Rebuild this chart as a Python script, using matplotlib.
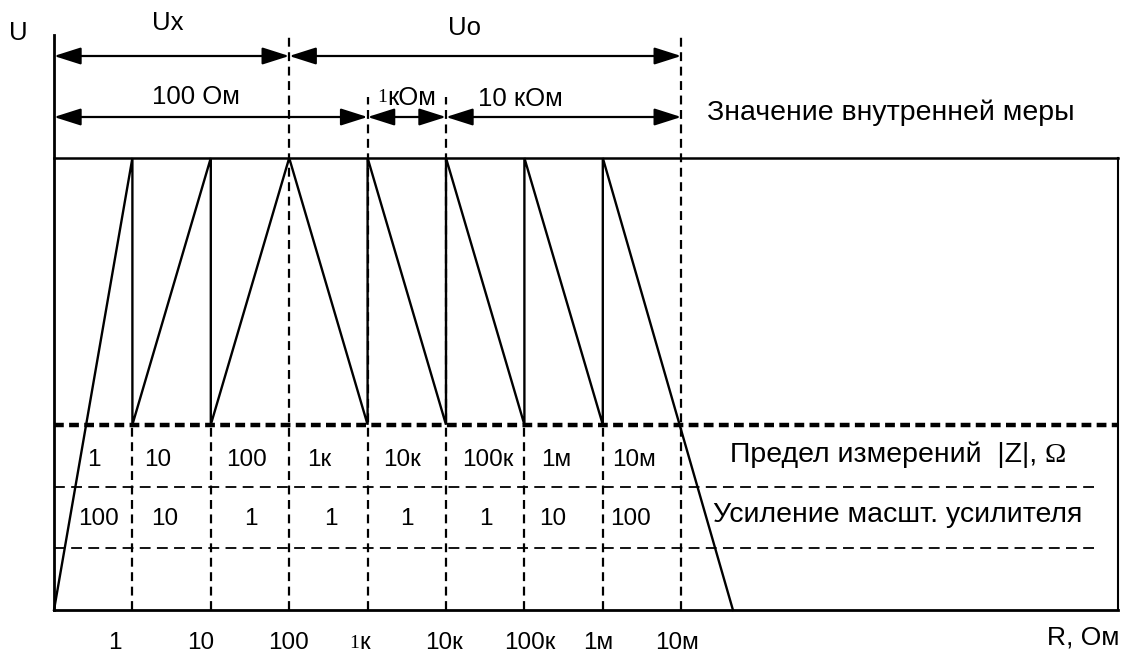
import matplotlib
matplotlib.use("Agg")
import matplotlib.pyplot as plt

plt.rcParams['font.family'] = ['Liberation Sans', 'DejaVu Sans']

# ---- data (x in decades from the U axis, y in units of the internal measure level) ----
range_labels = ['1', '10', '100', '1к', '10к', '100к', '1м', '10м']
gain_labels = ['100', '10', '1', '1', '1', '1', '10', '100']
tick_labels = ['1', '10', '100', '1к', '10к', '100к', '1м', '10м']
measure_level = 1.0
limit_level = 0.41
row_levels = [0.272, 0.137]
wave_x = [0, 1, 1, 2, 2, 3, 4, 4, 5, 5, 6, 6, 7, 7, 8.66]
wave_y = [0, 1, 0.41, 1, 0.41, 1, 0.41, 1, 0.41, 1, 0.41, 1, 0.41, 1, 0]
x_right = 13.57

W, H = 1123, 654
fig = plt.figure(figsize=(W / 100, H / 100), dpi=100)
ax = fig.add_axes([0, 0, 1, 1])
px_per_x = 78.4
px_per_y = 452.0
x0_px, y0_px = 54, 610
ax.set_xlim(-x0_px / px_per_x, (W - x0_px) / px_per_x)
ax.set_ylim(-(H - y0_px) / px_per_y, y0_px / px_per_y)
ax.axis('off')

def py(p):  # pixel row -> data y
    return (y0_px - p) / px_per_y

def pxx(p):  # pixel col -> data x
    return (p - x0_px) / px_per_x

k = dict(color='black')
# axes / frame
ax.plot([0, 0], [0, py(35)], lw=2, **k)
ax.plot([0, x_right], [0, 0], lw=2, **k)
ax.plot([x_right, x_right], [0, measure_level], lw=1.5, **k)
ax.plot([0, x_right], [measure_level, measure_level], lw=1.8, **k)

# horizontal dashed lines
ax.plot([0, x_right], [limit_level, limit_level], lw=3.2, ls=(0, (2.2, 1.2)), **k)
for lv in row_levels:
    ax.plot([0, pxx(1098)], [lv, lv], lw=1.3, ls=(0, (6, 3.5)), **k)

# vertical dashed lines
tops = {1: limit_level, 2: limit_level, 3: py(35), 4: py(97), 5: py(97),
        6: limit_level, 7: limit_level, 8: py(35)}
for xi, top in tops.items():
    ax.plot([xi, xi], [0, top], lw=1.6, ls=(0, (4, 2.5)), **k)

# waveform
ax.plot(wave_x, wave_y, lw=1.7, solid_joinstyle='miter', **k)

# dimension arrows
def dim(xa, xb, y):
    ax.annotate('', xy=(xb, y), xytext=(xa, y),
                arrowprops=dict(arrowstyle='<|-|>,head_length=1.1,head_width=0.35',
                                mutation_scale=15, shrinkA=0, shrinkB=0,
                                lw=1.6, color='black'))

ya, yb = py(56), py(117)
dim(0, 3, ya)
dim(3, 8, ya)
dim(0, 4, yb)
dim(4, 5, yb)
dim(5, 8, yb)

fs_big = 20.5
fs_mid = 18.5
fs_dig = 17.5
ax.text(pxx(18), py(33), 'U', fontsize=fs_mid, ha='center', va='center')
ax.text(pxx(168), py(23), 'Ux', fontsize=fs_mid, ha='center', va='center')
ax.text(pxx(465), py(28), 'Uo', fontsize=fs_mid, ha='center', va='center')
ax.text(pxx(196), py(97), '100 Ом', fontsize=fs_mid, ha='center', va='center')
ax.text(pxx(387), py(98), '1', fontsize=14, family='Liberation Serif', ha='right', va='center')
ax.text(pxx(387), py(98), 'кОм', fontsize=fs_mid, ha='left', va='center')
ax.text(pxx(520), py(99), '10 кОм', fontsize=fs_mid, ha='center', va='center')
ax.text(pxx(707), py(113), 'Значение внутренней меры', fontsize=fs_big, ha='left', va='center')
t_lim = ax.text(pxx(730), py(455), 'Предел измерений  |Z|, ', fontsize=fs_big, ha='left', va='center')
ax.text(pxx(713), py(515), 'Усиление масшт. усилителя', fontsize=fs_big, ha='left', va='center')
ax.text(pxx(1083), py(638), 'R, Ом', fontsize=19, ha='center', va='center')

fig.canvas.draw()
bb = t_lim.get_window_extent()
x_end = ax.transData.inverted().transform((bb.x1, bb.y0))[0]
ax.text(x_end, py(455), 'Ω', fontsize=fs_big, family='Liberation Serif', ha='left', va='center')

range_px = [94, 158, 247, 319, 402, 488, 556, 634]
for lab, p in zip(range_labels, range_px):
    ax.text(pxx(p), py(460), lab, fontsize=fs_dig, ha='center', va='center')
gain_px = [98, 165, 251, 331, 407, 486, 553, 631]
for lab, p in zip(gain_labels, gain_px):
    ax.text(pxx(p), py(519), lab, fontsize=fs_dig, ha='center', va='center')
tick_px = [115, 201, 288, 360, 444, 530, 598, 677]
for lab, p in zip(tick_labels, tick_px):
    if lab == '1к':
        ax.text(pxx(p - 1), py(643), '1', fontsize=14, family='Liberation Serif', ha='right', va='center')
        ax.text(pxx(p - 1), py(643), 'к', fontsize=fs_dig, ha='left', va='center')
    else:
        ax.text(pxx(p), py(643), lab, fontsize=fs_dig, ha='center', va='center')

fig.savefig('out.png', dpi=100, facecolor='white')
